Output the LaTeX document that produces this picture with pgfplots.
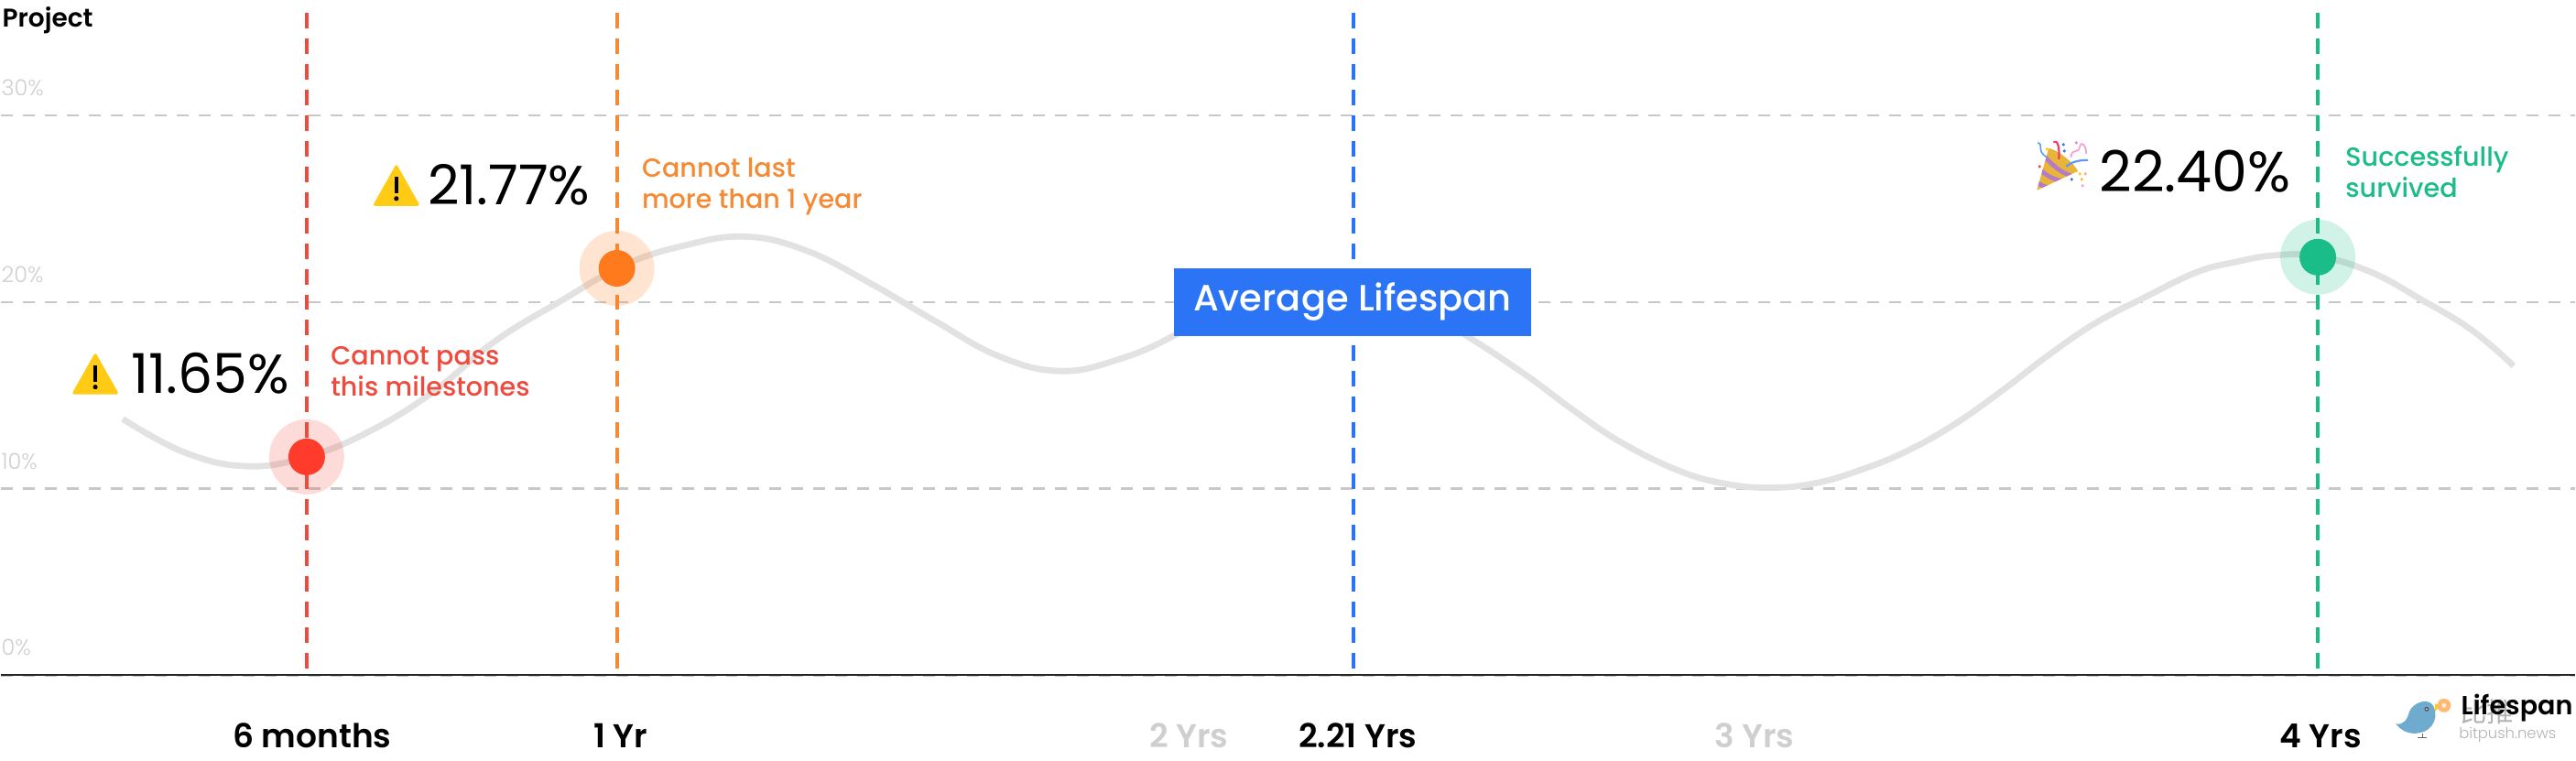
\documentclass[border=0pt]{standalone}
\usepackage{pgfplots}
\pgfplotsset{compat=1.18}
\usepackage{fontspec}
\setmainfont{Poppins}
\newfontfamily\pmed{Poppins Medium}
\newfontfamily\psemi{Poppins SemiBold}
\newfontfamily\plight{Poppins Light}
\newfontfamily\cjk{Noto Sans CJK SC}
\definecolor{cred}{HTML}{EE4B3E}
\definecolor{cdot}{HTML}{FF3B2B}
\definecolor{corg}{HTML}{F58A35}
\definecolor{cdotorg}{HTML}{FF7A1C}
\definecolor{cblue}{HTML}{2B74F5}
\definecolor{cgrn}{HTML}{1ABC87}
\definecolor{cgrid}{HTML}{C8C8C8}
\definecolor{cline}{HTML}{E2E2E2}
\definecolor{clab}{HTML}{CFCFCF}
\definecolor{cwarn}{HTML}{FFCB14}
\definecolor{cgold}{HTML}{E8B53A}
\definecolor{cpurple}{HTML}{B57BC4}
\definecolor{cbird}{HTML}{6FAACF}
\newcommand{\myfs}[2]{\fontsize{#1pt}{#2pt}\selectfont}
\begin{document}
\begin{tikzpicture}
% icons, in pixel coordinates of the picture
\begin{scope}[x=0.5pt,y=-0.5pt,shift={(0pt,415.5pt)}]
  \foreach \dx/\dy in {0/0,329/-206}{
    \begin{scope}[shift={(\dx,\dy)}]
      \fill[cwarn,rounded corners=1.5pt] (103,385)--(77,431)--(129,431)--cycle;
      \fill[black] (101,399) rectangle (105,417);
      \fill[black] (103,423) circle (2.6);
    \end{scope}}
  % party popper
  \begin{scope}
    \clip (2225,208) -- (2238,162) .. controls (2250,165) and (2265,178) .. (2270,187) -- cycle;
    \fill[cgold] (2220,212) rectangle (2275,158);
    \draw[cpurple,line width=2.4pt] (2224,198) .. controls (2230,203) and (2236,206) .. (2242,205);
    \draw[cpurple,line width=2.4pt] (2228,185) .. controls (2235,192) and (2245,197) .. (2254,198);
    \draw[cpurple,line width=2.4pt] (2234,172) .. controls (2242,180) and (2250,188) .. (2262,192);
  \end{scope}
  \draw[cblue!75,line width=1.1pt] (2257,182) .. controls (2263,177) and (2270,175) .. (2281,175);
  \draw[cred!80!magenta,line width=1.1pt] (2243,155) .. controls (2248,152) and (2250,162) .. (2249,174);
  \draw[cblue!75,line width=.8pt] (2226,156) .. controls (2233,158) and (2224,165) .. (2236,172);
  \draw[magenta!40,line width=.8pt] (2262,172) .. controls (2264,160) and (2270,170) .. (2272,160) .. controls (2274,153) and (2279,160) .. (2279,168);
  \foreach \x/\y/\cc in {2254/158/cblue,2255/165/cblue,2236/163/cwarn,2272/190/cwarn,2278/190/orange!60,2274/196/cwarn!70!orange,2275/203/magenta!40,2263/196/cblue,2228/182/cred,2268/156/magenta!50}{\fill[\cc] (\x,\y) circle (1.7);}
  % watermark
  \fill[cbird] (2617,791) .. controls (2626,793) and (2630,786) .. (2632,778)
     .. controls (2636,768) and (2652,762) .. (2658,771) .. controls (2664,781) and (2660,798) .. (2643,801)
     .. controls (2633,803) and (2626,799) .. (2622,796) --cycle;
  \fill[cwarn] (2660,769)--(2666,771)--(2660,778)--cycle;
  \fill[orange!55] (2670,771) circle (7.5);
  \fill[white!85!orange] (2670,771) circle (2.5);
  \fill[black!70] (2651,775) circle (2.4);
  \fill[white] (2651,775) circle (1);
  \draw[black!60,line width=.4pt] (2646,802)--(2646,806) (2641,806)--(2651,806);
  \node[anchor=center,inner sep=0pt,text=black!30] at (2717,778) {\cjk\myfs{14.7}{14.7}比推};
  \node[anchor=center,inner sep=0pt,text=black!30] at (2739.5,803) {\plight\myfs{8.2}{8.2}bitpush.news};
\end{scope}
\begin{axis}[
  scale only axis, width=1406.5pt, height=415.5pt,
  xmin=0, xmax=2813, ymin=-4.559, ymax=36.176,
  axis x line=middle, axis y line=left,
  axis line style={-}, x axis line style={draw=black!85,line width=1.1pt},
  y axis line style={draw=none},
  major tick length=0pt,
  xtick={340,677,1298,1483,1916,2535},
  xticklabels={{6 months},{1 Yr},{\textcolor{clab}{2 Yrs}},{2.21 Yrs},{\textcolor{clab}{3 Yrs}},{4 Yrs}},
  xticklabel style={font=\psemi\myfs{18}{18},text=black,anchor=center,inner sep=0pt,yshift=-33pt},
  ytick={0,10,20,30},
  yticklabels={0\%,10\%,20\%,30\%},
  yticklabel style={font=\plight\myfs{12}{12},text=clab,anchor=west,inner sep=0pt,xshift=0pt,yshift=15pt},
  ymajorgrids,
  grid style={draw=cgrid,line width=1.2pt,dash pattern=on 6.5pt off 5.5pt},
  xlabel={Lifespan}, ylabel={Project},
  every axis x label/.style={at={(axis cs:2811,{(738-774)/20.4})},anchor=east,inner sep=0pt,font=\psemi\myfs{14.3}{14.3},text=black},
  every axis y label/.style={at={(axis cs:1,{(738-22)/20.4})},anchor=west,inner sep=0pt,font=\psemi\myfs{14}{14},text=black},
  clip=false,
]
% the survival curve
\addplot[cline,line width=3.4pt,smooth,tension=0.7,no marks] coordinates {
 (133,13.73)(200,11.95)(268,11.2)(334,11.7)(400,13.0)(470,15.1)(540,17.9)(610,20.0)(680,21.95)(745,23.0)(813,23.5)(880,22.75)(950,21.0)(1020,19.0)(1090,17.1)(1157,16.3)(1220,16.9)(1282,18.2)(1360,20.5)(1440,21.6)(1520,20.6)(1600,18.24)(1666,16.1)(1717,14.25)(1768,12.55)(1830,11.03)(1881,10.29)(1932,10.05)(1983,10.29)(2034,11.03)(2085,12.06)(2136,13.48)(2187,15.25)(2238,17.16)(2289,18.87)(2345,20.3)(2400,21.6)(2443,22.15)(2486,22.5)(2532,22.45)(2590,21.6)(2646,20.1)(2700,18.5)(2746,16.57)};
% halos
\addplot[only marks,color=cred,mark=*,mark size=20.5pt,mark options={draw opacity=0,fill opacity=.2}] coordinates {(334,11.7)};
\addplot[only marks,color=cdotorg,mark=*,mark size=20.5pt,mark options={draw opacity=0,fill opacity=.2}] coordinates {(673,21.8)};
\addplot[only marks,color=cgrn,mark=*,mark size=20.5pt,mark options={draw opacity=0,fill opacity=.2}] coordinates {(2532,22.4)};
% milestones
\addplot[cred,line width=2pt,dash pattern=on 8.5pt off 5.5pt] coordinates {(334,35.5)(334,0)};
\addplot[corg,line width=2pt,dash pattern=on 8.5pt off 5.5pt] coordinates {(673,35.5)(673,0)};
\addplot[cblue,line width=2pt,dash pattern=on 8.5pt off 5.5pt] coordinates {(1478,35.5)(1478,0)};
\addplot[cgrn,line width=2pt,dash pattern=on 8.5pt off 5.5pt] coordinates {(2532,35.5)(2532,0)};
\addplot[only marks,color=cdot,mark=*,mark size=10pt,mark options={draw opacity=0}] coordinates {(334,11.7)};
\addplot[only marks,color=cdotorg,mark=*,mark size=10pt,mark options={draw opacity=0}] coordinates {(673,21.8)};
\addplot[only marks,color=cgrn,mark=*,mark size=10pt,mark options={draw opacity=0}] coordinates {(2532,22.4)};
% labels
\node[fill=cblue,text=white,minimum width=195pt,minimum height=37pt,inner sep=0pt,font=\pmed\myfs{20}{20}] at (axis cs:1477,{(738-330)/20.4}) {Average Lifespan};
\node[anchor=west,inner sep=0pt,font=\myfs{30}{30}] at (axis cs:142,{(738-408)/20.4}) {11.65\%};
\node[anchor=west,inner sep=0pt,font=\myfs{30}{30}] at (axis cs:466,{(738-202)/20.4}) {21.77\%};
\node[anchor=west,inner sep=0pt,font=\myfs{31}{31}] at (axis cs:2293,{(738-187)/20.4}) {22.40\%};
\node[anchor=west,inner sep=0pt,align=left,text=cred,font=\pmed\myfs{14.3}{17}] at (axis cs:360,{(738-406)/20.4}) {Cannot pass\\this milestones};
\node[anchor=west,inner sep=0pt,align=left,text=corg,font=\pmed\myfs{14.3}{17}] at (axis cs:700,{(738-204)/20.4}) {Cannot last\\more than 1 year};
\node[anchor=west,inner sep=0pt,align=left,text=cgrn,font=\pmed\myfs{14.3}{17}] at (axis cs:2562,{(738-188)/20.4}) {Successfully\\survived};
\end{axis}
\end{tikzpicture}
\end{document}
